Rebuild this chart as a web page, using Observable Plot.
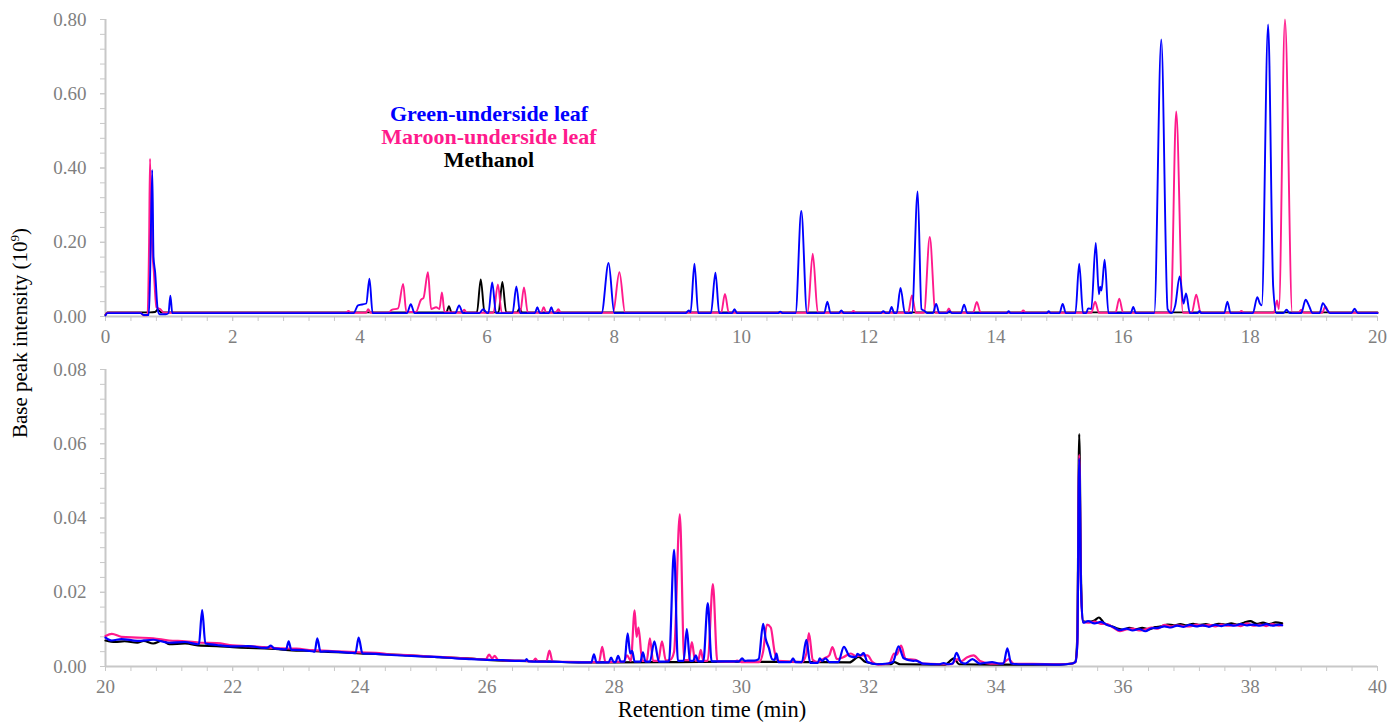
<!DOCTYPE html>
<html>
<head>
<meta charset="utf-8">
<script src="https://cdn.jsdelivr.net/npm/d3@7"></script>
<script src="https://cdn.jsdelivr.net/npm/@observablehq/plot@0.6"></script>
<style>
  html, body { margin: 0; padding: 0; background: #ffffff; }
  #chart { position: relative; width: 1389px; height: 722px; overflow: hidden; }
  #top, #bottom { position: absolute; left: 0; }
  #top { top: 0; }
  #bottom { top: 350px; }
  .legend { position: absolute; left: 289px; width: 400px; top: 102px; text-align: center;
    font-family: "Liberation Serif", "Times New Roman", serif; font-weight: bold; font-size: 22px; line-height: 23px; }
  .ytitle { position: absolute; left: 20px; top: 333px; transform: translate(-50%, -50%) rotate(-90deg);
    white-space: nowrap; font-family: "Liberation Serif", "Times New Roman", serif; font-size: 21px; color: #000; }
  .xtitle { position: absolute; left: 712px; top: 698px; transform: translateX(-50%);
    white-space: nowrap; font-family: "Liberation Serif", "Times New Roman", serif; font-size: 22.5px; color: #000; line-height: 24px; }
</style>
</head>
<body>
<div id="chart">
  <div id="top"></div>
  <div id="bottom"></div>
  <div class="legend" id="legend"></div>
  <div class="ytitle">Base peak intensity (10<sup style="font-size:13px">9</sup>)</div>
  <div class="xtitle">Retention time (min)</div>
</div>
<script>
// ---------- series names & colours ----------
const seriesNames = ["Green-underside leaf", "Maroon-underside leaf", "Methanol"];
const seriesColors = ["#0000ff", "#ff1a8c", "#000000"];

// ---------- tick values ----------
const topXTicks = [0, 2, 4, 6, 8, 10, 12, 14, 16, 18, 20];
const topYTicks = [0, 0.2, 0.4, 0.6, 0.8];
const bottomXTicks = [20, 22, 24, 26, 28, 30, 32, 34, 36, 38, 40];
const bottomYTicks = [0, 0.02, 0.04, 0.06, 0.08];

// ---------- top panel (0-20 min), [time, intensity] ----------
const greenTop = [
  [0,0.003],[0.03,0.009],[0.55,0.009],[0.6,0.004],[0.68,0.004],[0.70,0.1],[0.735,0.395],[0.755,0.16],[0.78,0.12],[0.82,0.02],[0.85,0.006],[0.95,0.006],[0.99,0.009],[1.02,0.056],[1.05,0.009],
  [3.9,0.009],[3.97,0.03],[4.1,0.035],[4.15,0.102],[4.2,0.009],
  [4.74,0.009],[4.8,0.033],[4.86,0.009],
  [5.5,0.009],[5.56,0.03],[5.62,0.009],
  [5.88,0.009],[5.94,0.02],[6.0,0.009],
  [6.02,0.009],[6.08,0.092],[6.14,0.009],
  [6.40,0.009],[6.46,0.081],[6.52,0.009],
  [6.75,0.009],[6.79,0.025],[6.83,0.009],
  [6.97,0.009],[7.01,0.025],[7.05,0.009],
  [7.8,0.009],[7.91,0.144],[8.0,0.009],
  [9.12,0.009],[9.17,0.016],[9.2,0.012],[9.26,0.142],[9.32,0.009],
  [9.52,0.009],[9.59,0.118],[9.65,0.009],
  [9.85,0.009],[9.89,0.02],[9.93,0.009],
  [10.57,0.009],[10.61,0.013],[10.65,0.009],
  [10.85,0.009],[10.94,0.284],[11.03,0.009],
  [11.3,0.009],[11.35,0.04],[11.4,0.009],
  [11.53,0.009],[11.57,0.016],[11.61,0.009],
  [12.19,0.009],[12.23,0.014],[12.27,0.009],
  [12.32,0.009],[12.36,0.026],[12.4,0.009],
  [12.44,0.009],[12.5,0.077],[12.57,0.009],
  [12.68,0.009],[12.77,0.337],[12.83,0.02],[12.88,0.015],[12.92,0.009],
  [13.01,0.009],[13.06,0.034],[13.11,0.009],
  [13.23,0.009],[13.27,0.014],[13.31,0.009],
  [13.45,0.009],[13.5,0.032],[13.55,0.009],
  [14.17,0.009],[14.2,0.014],[14.23,0.009],
  [14.8,0.009],[14.83,0.014],[14.86,0.009],
  [15.0,0.009],[15.05,0.034],[15.1,0.009],
  [15.25,0.009],[15.31,0.142],[15.37,0.009],
  [15.42,0.009],[15.45,0.022],[15.5,0.02],[15.57,0.198],[15.62,0.06],[15.64,0.08],[15.66,0.07],[15.71,0.153],[15.77,0.009],
  [16.12,0.009],[16.16,0.026],[16.2,0.009],
  [16.49,0.009],[16.6,0.746],[16.7,0.02],[16.76,0.009],[16.82,0.03],[16.89,0.108],[16.95,0.035],[16.99,0.062],[17.05,0.009],
  [17.17,0.009],[17.2,0.015],[17.23,0.009],
  [17.59,0.009],[17.64,0.04],[17.69,0.009],
  [18.04,0.009],[18.11,0.052],[18.15,0.035],[18.18,0.03],[18.28,0.787],[18.36,0.08],[18.41,0.009],
  [18.52,0.009],[18.57,0.018],[18.62,0.009],
  [18.8,0.009],[18.87,0.045],[18.92,0.03],[18.98,0.009],
  [19.09,0.009],[19.14,0.036],[19.2,0.02],[19.25,0.009],
  [19.59,0.009],[19.64,0.021],[19.69,0.009],[20,0.009]
];
const maroonTop = [
  [0,0.004],[0.03,0.01],[0.55,0.01],[0.6,0.003],[0.66,0.003],[0.685,0.2],[0.70,0.425],[0.73,0.2],[0.76,0.12],[0.8,0.025],[0.86,0.02],[0.92,0.01],
  [3.78,0.01],[3.82,0.015],[3.86,0.01],
  [4.1,0.01],[4.13,0.02],[4.17,0.01],
  [4.45,0.01],[4.5,0.018],[4.6,0.022],[4.68,0.088],[4.73,0.012],
  [4.88,0.012],[4.96,0.045],[5.0,0.05],[5.07,0.119],[5.12,0.02],[5.2,0.025],[5.25,0.02],[5.29,0.065],[5.33,0.012],
  [5.6,0.01],[5.64,0.018],[5.68,0.01],
  [6.1,0.01],[6.17,0.086],[6.23,0.01],
  [6.52,0.01],[6.58,0.078],[6.64,0.01],
  [6.85,0.01],[6.89,0.025],[6.93,0.01],
  [7.08,0.01],[7.12,0.02],[7.16,0.01],
  [7.98,0.01],[8.08,0.119],[8.17,0.01],
  [9.68,0.01],[9.74,0.061],[9.8,0.01],
  [11.04,0.01],[11.12,0.169],[11.2,0.01],
  [11.72,0.01],[11.76,0.015],[11.8,0.01],
  [12.62,0.01],[12.68,0.057],[12.74,0.01],
  [12.87,0.01],[12.96,0.214],[13.05,0.01],
  [13.22,0.01],[13.26,0.022],[13.3,0.01],
  [13.64,0.01],[13.7,0.039],[13.76,0.01],
  [14.39,0.01],[14.43,0.016],[14.47,0.01],
  [15.5,0.01],[15.56,0.04],[15.62,0.01],
  [15.88,0.01],[15.94,0.048],[16.0,0.01],
  [16.75,0.01],[16.835,0.552],[16.94,0.01],
  [17.08,0.01],[17.15,0.059],[17.22,0.01],
  [17.82,0.01],[17.86,0.015],[17.9,0.01],
  [18.37,0.01],[18.42,0.043],[18.45,0.02],[18.545,0.8],[18.66,0.01],
  [18.76,0.01],[18.8,0.018],[18.84,0.01],
  [19.13,0.01],[19.18,0.027],[19.24,0.01],[20,0.01]
];
const methanolTop = [
  [0,0.005],[0.03,0.011],[0.7,0.011],[0.78,0.012],[0.82,0.018],[0.88,0.011],
  [5.36,0.011],[5.4,0.028],[5.44,0.011],
  [5.84,0.011],[5.9,0.1],[5.96,0.011],
  [6.18,0.011],[6.24,0.093],[6.3,0.011],
  [6.47,0.011],[6.51,0.022],[6.55,0.011],[20,0.011]
];

// ---------- bottom panel (20-40 min), [time, intensity] ----------
const greenBottom = [
  [20.0,0.0078],[20.1,0.0070],[20.25,0.0074],[20.5,0.0069],[20.75,0.0072],[21.0,0.0064],[21.25,0.0066],[21.45,0.0060],
  [21.47,0.0062],[21.52,0.0152],[21.57,0.0062],
  [21.75,0.0058],[22.0,0.0054],[22.25,0.0055],[22.5,0.0050],[22.55,0.0051],[22.6,0.0056],[22.65,0.0049],[22.75,0.0047],[22.84,0.0046],[22.88,0.0068],[22.92,0.0045],
  [23.0,0.0045],[23.25,0.0041],[23.29,0.0040],[23.33,0.0076],[23.38,0.0040],[23.5,0.0041],[23.75,0.0038],[23.93,0.0036],[23.98,0.0078],[24.04,0.0035],
  [24.25,0.0034],[24.5,0.0031],[24.75,0.0029],[25.0,0.0027],[25.25,0.0025],[25.5,0.0022],[25.75,0.0020],[26.0,0.0018],[26.25,0.0017],[26.5,0.0015],
  [26.6,0.0015],[26.62,0.0020],[26.65,0.0014],[27.0,0.0013],[27.5,0.0011],[27.64,0.0011],[27.68,0.0033],[27.72,0.0011],[27.91,0.0011],[27.95,0.0024],[27.99,0.0012],
  [28.02,0.0012],[28.06,0.0029],[28.1,0.0013],[28.16,0.0013],[28.21,0.0089],[28.25,0.0035],[28.28,0.0042],[28.32,0.0013],[28.41,0.0013],[28.45,0.0038],[28.49,0.0013],
  [28.56,0.0013],[28.63,0.0068],[28.7,0.0013],[28.86,0.0014],[28.94,0.0314],[29.0,0.0015],[29.09,0.0015],[29.14,0.0101],[29.19,0.0015],[29.24,0.0015],[29.28,0.0030],[29.32,0.0014],
  [29.4,0.0014],[29.47,0.0171],[29.53,0.0014],[29.96,0.0014],[30.01,0.0022],[30.05,0.0015],[30.1,0.0016],[30.2,0.0016],[30.27,0.0020],[30.34,0.0115],[30.38,0.0075],[30.43,0.0050],
  [30.48,0.0020],[30.52,0.0018],[30.55,0.0035],[30.58,0.0012],[30.77,0.0012],[30.81,0.0022],[30.85,0.0012],[30.95,0.0012],[31.02,0.0072],[31.08,0.0010],[31.2,0.0010],
  [31.23,0.0022],[31.27,0.0015],[31.32,0.0022],[31.38,0.0012],[31.52,0.0012],[31.61,0.0053],[31.7,0.0028],[31.8,0.0025],[31.82,0.0034],[31.87,0.0030],[31.92,0.0036],[31.98,0.0012],
  [32.13,0.0006],[32.3,0.0008],[32.38,0.0012],[32.47,0.0054],[32.55,0.0022],[32.7,0.0015],[32.74,0.0016],[32.85,0.0008],[33.1,0.0006],[33.18,0.0009],[33.25,0.0006],[33.32,0.0008],
  [33.38,0.0037],[33.45,0.0012],[33.52,0.0008],[33.63,0.0020],[33.75,0.0008],[33.94,0.0012],[34.05,0.0008],[34.12,0.0008],[34.18,0.0049],[34.24,0.0008],[34.4,0.0006],[34.57,0.0006],
  [35.0,0.0005],[35.2,0.0008],[35.25,0.0012],[35.28,0.0060],[35.31,0.0559],[35.34,0.0200],[35.37,0.0118],
  [35.45,0.0122],[35.55,0.0116],[35.65,0.0120],[35.75,0.0112],[35.85,0.0106],[35.95,0.0098],[36.05,0.0102],[36.15,0.0097],[36.25,0.0101],[36.35,0.0095],[36.45,0.0103],
  [36.55,0.0104],[36.65,0.0108],[36.75,0.0105],[36.85,0.0110],[36.95,0.0107],[37.05,0.0112],[37.15,0.0108],[37.25,0.0111],[37.35,0.0107],[37.45,0.0112],[37.55,0.0109],
  [37.65,0.0113],[37.75,0.0110],[37.85,0.0114],[37.95,0.0111],[38.05,0.0113],[38.15,0.0110],[38.25,0.0114],[38.35,0.0110],[38.45,0.0113],[38.5,0.0111]
];
const maroonBottom = [
  [20.0,0.0082],[20.1,0.0088],[20.25,0.0080],[20.5,0.0078],[20.75,0.0076],[21.0,0.0070],[21.25,0.0068],[21.5,0.0064],[21.75,0.0063],[22.0,0.0057],[22.25,0.0055],
  [22.5,0.0052],[22.75,0.0049],[23.0,0.0048],[23.25,0.0044],[23.5,0.0042],[23.75,0.0040],[24.0,0.0038],[24.25,0.0037],[24.5,0.0032],[24.75,0.0031],[25.0,0.0028],
  [25.25,0.0026],[25.5,0.0023],[25.75,0.0021],[25.98,0.0019],[26.03,0.0032],[26.08,0.0022],[26.12,0.0029],[26.17,0.0018],[26.5,0.0016],[26.72,0.0014],[26.76,0.0021],
  [26.8,0.0014],[26.93,0.0013],[26.98,0.0043],[27.03,0.0013],[27.5,0.0012],[27.76,0.0012],[27.81,0.0053],[27.86,0.0012],[28.15,0.0013],[28.2,0.0030],[28.26,0.0015],
  [28.32,0.0151],[28.35,0.0080],[28.38,0.0105],[28.44,0.0015],[28.51,0.0015],[28.56,0.0076],[28.61,0.0015],[28.69,0.0015],[28.75,0.0068],[28.81,0.0016],[28.88,0.0018],
  [28.94,0.0040],[29.03,0.0410],[29.1,0.0017],[29.17,0.0017],[29.22,0.0066],[29.27,0.0016],[29.32,0.0016],[29.36,0.0045],[29.4,0.0015],[29.47,0.0016],[29.55,0.0222],
  [29.62,0.0014],[29.88,0.0013],[29.93,0.0016],[30.0,0.0012],[30.28,0.0012],[30.34,0.0040],[30.4,0.0113],[30.46,0.0105],[30.52,0.0040],[30.58,0.0015],[30.95,0.0012],
  [31.02,0.0035],[31.06,0.0090],[31.12,0.0018],[31.2,0.0012],[31.3,0.0022],[31.38,0.0030],[31.43,0.0052],[31.5,0.0020],[31.6,0.0025],[31.72,0.0035],[31.8,0.0028],
  [31.9,0.0030],[31.98,0.0030],[32.06,0.0012],[32.15,0.0005],[32.32,0.0008],[32.4,0.0035],[32.44,0.0032],[32.51,0.0056],[32.58,0.0020],[32.73,0.0018],[32.85,0.0008],
  [33.3,0.0006],[33.39,0.0020],[33.45,0.0014],[33.55,0.0025],[33.65,0.0030],[33.75,0.0015],[33.91,0.0008],[34.1,0.0008],[34.2,0.0020],[34.28,0.0007],[34.57,0.0007],
  [35.0,0.0006],[35.2,0.0008],[35.25,0.0012],[35.28,0.0060],[35.31,0.0570],[35.34,0.0200],[35.37,0.0120],
  [35.45,0.0118],[35.55,0.0121],[35.65,0.0115],[35.75,0.0114],[35.85,0.0104],[35.95,0.0095],[36.05,0.0100],[36.15,0.0102],[36.25,0.0097],[36.35,0.0100],[36.45,0.0105],
  [36.55,0.0102],[36.65,0.0112],[36.75,0.0108],[36.85,0.0111],[36.95,0.0109],[37.05,0.0108],[37.15,0.0113],[37.25,0.0110],[37.35,0.0112],[37.45,0.0108],[37.55,0.0113],
  [37.65,0.0110],[37.75,0.0112],[37.85,0.0109],[37.95,0.0116],[38.05,0.0110],[38.15,0.0113],[38.25,0.0109],[38.35,0.0114],[38.45,0.0110],[38.5,0.0112]
];
const methanolBottom = [
  [20.0,0.0070],[20.15,0.0066],[20.3,0.0068],[20.5,0.0064],[20.6,0.0069],[20.75,0.0062],[20.9,0.0070],[21.0,0.0060],[21.25,0.0062],[21.5,0.0056],[21.75,0.0055],
  [22.0,0.0052],[22.25,0.0050],[22.5,0.0049],[22.75,0.0046],[23.0,0.0043],[23.25,0.0042],[23.5,0.0039],[23.75,0.0038],[24.0,0.0035],[24.25,0.0034],[24.5,0.0032],
  [24.75,0.0030],[25.0,0.0027],[25.25,0.0025],[25.5,0.0023],[25.75,0.0021],[26.0,0.0018],[26.5,0.0015],[27.0,0.0013],[27.5,0.0011],[28.0,0.0011],[29.0,0.0012],
  [30.0,0.0013],[31.0,0.0012],[31.7,0.0011],[31.84,0.0026],[31.95,0.0012],[32.2,0.0006],[32.35,0.0006],[32.4,0.0012],[32.5,0.0006],[33.2,0.0005],[33.34,0.0022],
  [33.42,0.0006],[34.0,0.0005],[35.0,0.0005],[35.2,0.0008],[35.25,0.0013],[35.28,0.0080],[35.31,0.0626],[35.34,0.0220],[35.37,0.0122],
  [35.45,0.0120],[35.55,0.0124],[35.62,0.0132],[35.7,0.0117],[35.8,0.0110],[35.9,0.0103],[36.0,0.0099],[36.1,0.0104],[36.2,0.0101],[36.3,0.0104],[36.4,0.0100],
  [36.5,0.0106],[36.6,0.0108],[36.7,0.0113],[36.8,0.0111],[36.9,0.0114],[37.0,0.0111],[37.1,0.0115],[37.2,0.0112],[37.3,0.0114],[37.4,0.0111],[37.5,0.0115],
  [37.6,0.0113],[37.7,0.0116],[37.8,0.0113],[37.9,0.0118],[38.0,0.0122],[38.1,0.0115],[38.2,0.0118],[38.3,0.0114],[38.4,0.0119],[38.5,0.0116]
];

// ---------- drawing ----------
const axisGrey = "#c8c8c8";
const labelGrey = "#7f7f7f";
const serif = "'Liberation Serif', 'Times New Roman', serif";

function panel({series, xDomain, yDomain, xTicks, yTicks, xStep, yStep, height, marginBottom, yFmt, lineWidth}) {
  const xMinor = d3.range(xDomain[0], xDomain[1] + xStep / 2, xStep);
  const yMinor = d3.range(yDomain[0], yDomain[1] + yStep / 2, yStep);
  return Plot.plot({
    width: 1389,
    height,
    marginLeft: 105,
    marginRight: 12,
    marginTop: 19,
    marginBottom,
    x: {domain: xDomain},
    y: {domain: yDomain},
    style: {fontFamily: serif, fontSize: "19px", color: labelGrey, background: "transparent", overflow: "visible"},
    marks: [
      Plot.axisX({ticks: xMinor, tickSize: 5, stroke: axisGrey, tickFormat: () => "", label: null}),
      Plot.axisX({ticks: xTicks, tickSize: 5, tickPadding: 8, stroke: axisGrey, fill: labelGrey, tickFormat: d => String(d), label: null, fontFamily: serif, fontSize: 19}),
      Plot.axisY({ticks: yMinor, tickSize: 5, stroke: axisGrey, tickFormat: () => "", label: null}),
      Plot.axisY({ticks: yTicks, tickSize: 5, tickPadding: 14, stroke: axisGrey, fill: labelGrey, tickFormat: yFmt, label: null, fontFamily: serif, fontSize: 19}),
      Plot.ruleY([yDomain[0]], {stroke: axisGrey, strokeWidth: 2}),
      Plot.ruleX([xDomain[0]], {stroke: axisGrey, strokeWidth: 2}),
      ...series.map(s => Plot.line(s.data, {x: d => d[0], y: d => d[1], stroke: s.color, strokeWidth: lineWidth, curve: "monotone-x"}))
    ]
  });
}

const fmt = d3.format(".2f");

document.getElementById("top").appendChild(panel({
  series: [
    {data: methanolTop, color: seriesColors[2]},
    {data: maroonTop, color: seriesColors[1]},
    {data: greenTop, color: seriesColors[0]}
  ],
  xDomain: [0, 20], yDomain: [0, 0.8], xTicks: topXTicks, yTicks: topYTicks,
  xStep: 0.4, yStep: 0.04, height: 350, marginBottom: 34, yFmt: fmt, lineWidth: 1.9
}));

document.getElementById("bottom").appendChild(panel({
  series: [
    {data: methanolBottom, color: seriesColors[2]},
    {data: maroonBottom, color: seriesColors[1]},
    {data: greenBottom, color: seriesColors[0]}
  ],
  xDomain: [20, 40], yDomain: [0, 0.08], xTicks: bottomXTicks, yTicks: bottomYTicks,
  xStep: 0.4, yStep: 0.004, height: 372, marginBottom: 56, yFmt: fmt, lineWidth: 2.2
}));

// legend
const legend = document.getElementById("legend");
seriesNames.forEach((name, i) => {
  const div = document.createElement("div");
  div.textContent = name;
  div.style.color = seriesColors[i];
  legend.appendChild(div);
});
</script>
</body>
</html>
